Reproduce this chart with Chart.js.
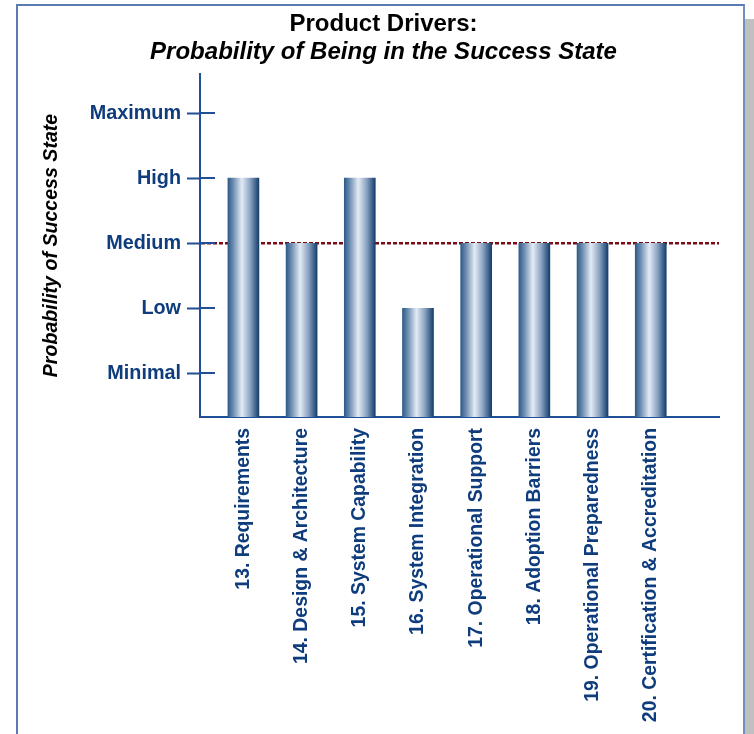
<!DOCTYPE html>
<html>
<head>
<meta charset="utf-8">
<script src="https://cdn.jsdelivr.net/npm/chart.js@4.4.1/dist/chart.umd.min.js"></script>
<style>
  html, body { margin: 0; padding: 0; background: #ffffff; width: 754px; height: 734px; overflow: hidden; }
  #frame { position: absolute; left: 16px; top: 4px; width: 725px; height: 760px;
           border-left: 2px solid #5a7cb2; border-top: 2px solid #5a7cb2; border-right: 2px solid #6f8fc2; }
  #shadow { position: absolute; left: 745px; top: 19px; width: 9px; height: 715px; background: #c0c0c0; }
  #wrap { position: absolute; left: 0; top: 0; width: 754px; height: 734px; }
</style>
</head>
<body>
<div id="frame"></div>
<div id="shadow"></div>
<div id="wrap"><canvas id="c" width="754" height="734"></canvas></div>
<script>
// ---- data ----
const categories = [
  '13. Requirements',
  '14. Design & Architecture',
  '15. System Capability',
  '16. System Integration',
  '17. Operational Support',
  '18. Adoption Barriers',
  '19. Operational Preparedness',
  '20. Certification & Accreditation'
];
const probabilityLevels = [4, 3, 4, 2, 3, 3, 3, 3];
const levelValues = [1, 2, 3, 4, 5];
const levelLabels = ['Minimal', 'Low', 'Medium', 'High', 'Maximum'];
const referenceLevel = 3;

const FONT = '"Liberation Sans", Arial, Helvetica, sans-serif';
const NAVY = '#0e3c7d';
const AXIS = '#1f4f96';

const refLinePlugin = {
  id: 'refLine',
  beforeDatasetsDraw(chart) {
    const {ctx, chartArea, scales} = chart;
    const y = scales.y.getPixelForValue(referenceLevel);
    ctx.save();
    ctx.strokeStyle = '#7b0c16';
    ctx.lineWidth = 2.5;
    ctx.setLineDash([4, 2]);
    ctx.beginPath();
    ctx.moveTo(chartArea.left + 1, y);
    ctx.lineTo(chartArea.right, y);
    ctx.stroke();
    ctx.restore();
  }
};

const innerTickPlugin = {
  id: 'innerTicks',
  afterDatasetsDraw(chart) {
    const {ctx, chartArea, scales} = chart;
    ctx.save();
    ctx.strokeStyle = AXIS;
    ctx.lineWidth = 2;
    scales.y.ticks.forEach(t => {
      const y = Math.round(scales.y.getPixelForValue(t.value));
      ctx.beginPath();
      ctx.moveTo(chartArea.left, y);
      ctx.lineTo(chartArea.left + 15, y);
      ctx.stroke();
    });
    ctx.restore();
  }
};

function barGradient(c) {
  const chart = c.chart;
  const xs = chart.scales && chart.scales.x;
  if (!xs || !chart.chartArea || !c.raw) return '#6b8bb0';
  const cx = xs.getPixelForValue(c.raw.x);
  const half = 15.5;
  const g = chart.ctx.createLinearGradient(cx - half, 0, cx + half, 0);
  g.addColorStop(0, '#2f5b88');
  g.addColorStop(0.18, '#6f8fb3');
  g.addColorStop(0.45, '#e4ebf4');
  g.addColorStop(0.72, '#8aa3c2');
  g.addColorStop(1, '#143e6b');
  return g;
}

new Chart(document.getElementById('c'), {
  type: 'bar',
  data: {
    datasets: [{
      data: probabilityLevels.map((v, i) => ({x: i, y: v})),
      backgroundColor: barGradient,
      borderWidth: 0,
      barThickness: 31
    }]
  },
  options: {
    responsive: false,
    animation: false,
    devicePixelRatio: 1,
    layout: { padding: { left: 48, right: 35, top: 0, bottom: 0 } },
    plugins: {
      legend: { display: false },
      tooltip: { enabled: false },
      title: {
        display: true,
        text: 'Product Drivers:',
        color: '#000000',
        font: { family: FONT, size: 24, weight: 'bold', lineHeight: 1 },
        padding: { top: 12, bottom: 0 }
      },
      subtitle: {
        display: true,
        text: 'Probability of Being in the Success State',
        color: '#000000',
        font: { family: FONT, size: 24, weight: 'bold', style: 'italic', lineHeight: 1 },
        padding: { top: 4, bottom: 10 }
      }
    },
    scales: {
      x: {
        type: 'linear',
        offset: false,
        min: -0.746,
        max: 8.173,
        afterBuildTicks: s => { s.ticks = categories.map((_, i) => ({value: i})); },
        afterFit: s => { s.height = 317; },
        grid: { display: true, drawOnChartArea: false, drawTicks: false, offset: false },
        border: { display: true, color: AXIS, width: 2 },
        ticks: {
          autoSkip: false,
          minRotation: 90,
          maxRotation: 90,
          padding: 11,
          color: NAVY,
          font: { family: FONT, size: 19.4, weight: 'bold' },
          callback: v => categories[v] ?? ''
        }
      },
      y: {
        type: 'linear',
        min: 0.33,
        max: 5.6,
        beginAtZero: false,
        afterBuildTicks: s => { s.ticks = levelValues.map(v => ({value: v})); },
        afterFit: s => { s.width = 152; },
        grid: { display: true, drawOnChartArea: false, drawTicks: true, tickLength: 13, tickColor: AXIS, tickWidth: 2 },
        border: { display: true, color: AXIS, width: 2 },
        ticks: {
          padding: 6,
          color: NAVY,
          font: { family: FONT, size: 19.8, weight: 'bold' },
          callback: v => levelLabels[levelValues.indexOf(v)] ?? ''
        },
        title: {
          display: true,
          text: 'Probability of Success State',
          color: '#000000',
          font: { family: FONT, size: 19.6, weight: 'bold', style: 'italic', lineHeight: 1.2 },
          padding: { top: -8, bottom: 0 }
        }
      }
    }
  },
  plugins: [refLinePlugin, innerTickPlugin]
});
</script>
</body>
</html>
